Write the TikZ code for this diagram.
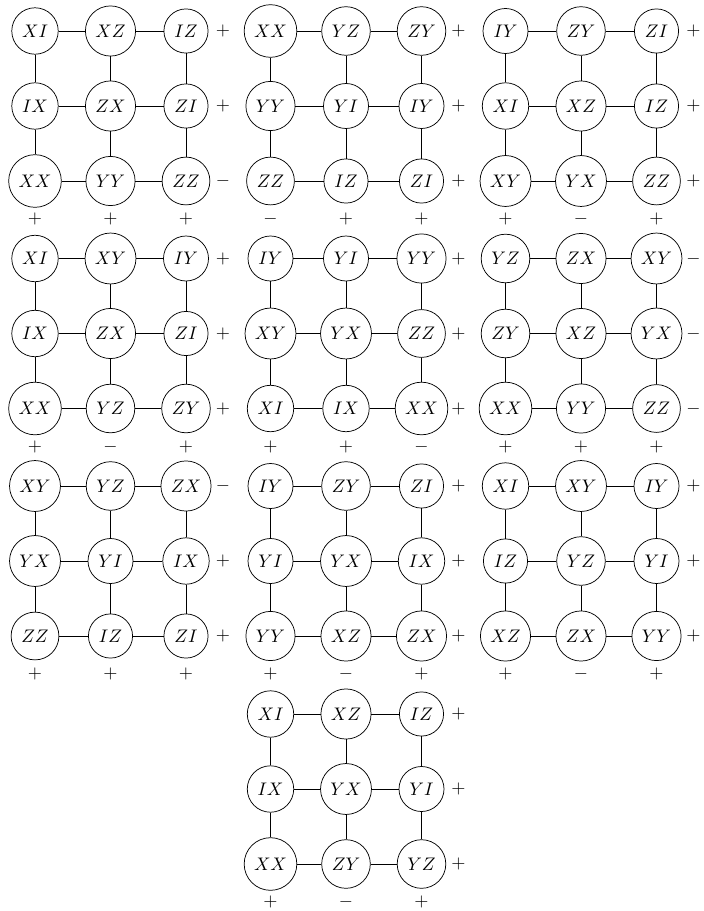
\documentclass[tikz,border=0pt]{standalone}
\usetikzlibrary{positioning}
\tikzset{
  pnode/.style={circle,draw,inner sep=3.6pt},
  psign/.style={inner sep=0pt},
  pedge/.style={draw}
}
\newcommand\pgrid[5]{%
  \foreach \lab [count=\k from 0] in {#4} {
    \pgfmathtruncatemacro\gr{int(\k/3)}
    \pgfmathtruncatemacro\gc{mod(\k,3)}
    \node[pnode] (#1-\gr-\gc) at ({#2+75.5*\gc},{#3+75*\gr}) {$\lab$};
  }
  \foreach \gr in {0,1,2} {
    \foreach \gc/\gd in {0/1,1/2} {
      \draw[pedge] (#1-\gr-\gc) -- (#1-\gr-\gd);
      \draw[pedge] (#1-\gc-\gr) -- (#1-\gd-\gr);
    }
  }
  \foreach \s [count=\k from 0] in {#5} {
    \ifnum\k<3
      \node[psign] (#1-s\k) at ({#2+151+37},{#3+75*\k}) {$\s$};
    \else
      \node[psign] (#1-s\k) at ({#2+75.5*(\k-3)},{#3+150+38}) {$\s$};
    \fi
  }
}
\begin{document}
\begin{tikzpicture}[x=0.55pt,y=-0.55pt]
\useasboundingbox (0,0) rectangle (703,911);
\pgrid{g1}{35}{31}{XI,XZ,IZ,IX,ZX,ZI,XX,YY,ZZ}{+,+,-,+,+,+}
\pgrid{g2}{270.5}{31}{XX,YZ,ZY,YY,YI,IY,ZZ,IZ,ZI}{+,+,+,-,+,+}
\pgrid{g3}{505.5}{31}{IY,ZY,ZI,XI,XZ,IZ,XY,YX,ZZ}{+,+,+,+,-,+}
\pgrid{g4}{35}{258.5}{XI,XY,IY,IX,ZX,ZI,XX,YZ,ZY}{+,+,+,+,-,+}
\pgrid{g5}{270.5}{258.5}{IY,YI,YY,XY,YX,ZZ,XI,IX,XX}{+,+,+,+,+,-}
\pgrid{g6}{505.5}{258.5}{YZ,ZX,XY,ZY,XZ,YX,XX,YY,ZZ}{-,-,-,+,+,+}
\pgrid{g7}{35}{486}{XY,YZ,ZX,YX,YI,IX,ZZ,IZ,ZI}{-,+,+,+,+,+}
\pgrid{g8}{270.5}{486}{IY,ZY,ZI,YI,YX,IX,YY,XZ,ZX}{+,+,+,+,-,+}
\pgrid{g9}{505.5}{486}{XI,XY,IY,IZ,YZ,YI,XZ,ZX,YY}{+,+,+,+,-,+}
\pgrid{g10}{270.5}{714}{XI,XZ,IZ,IX,YX,YI,XX,ZY,YZ}{+,+,+,+,-,+}
\end{tikzpicture}
\end{document}
